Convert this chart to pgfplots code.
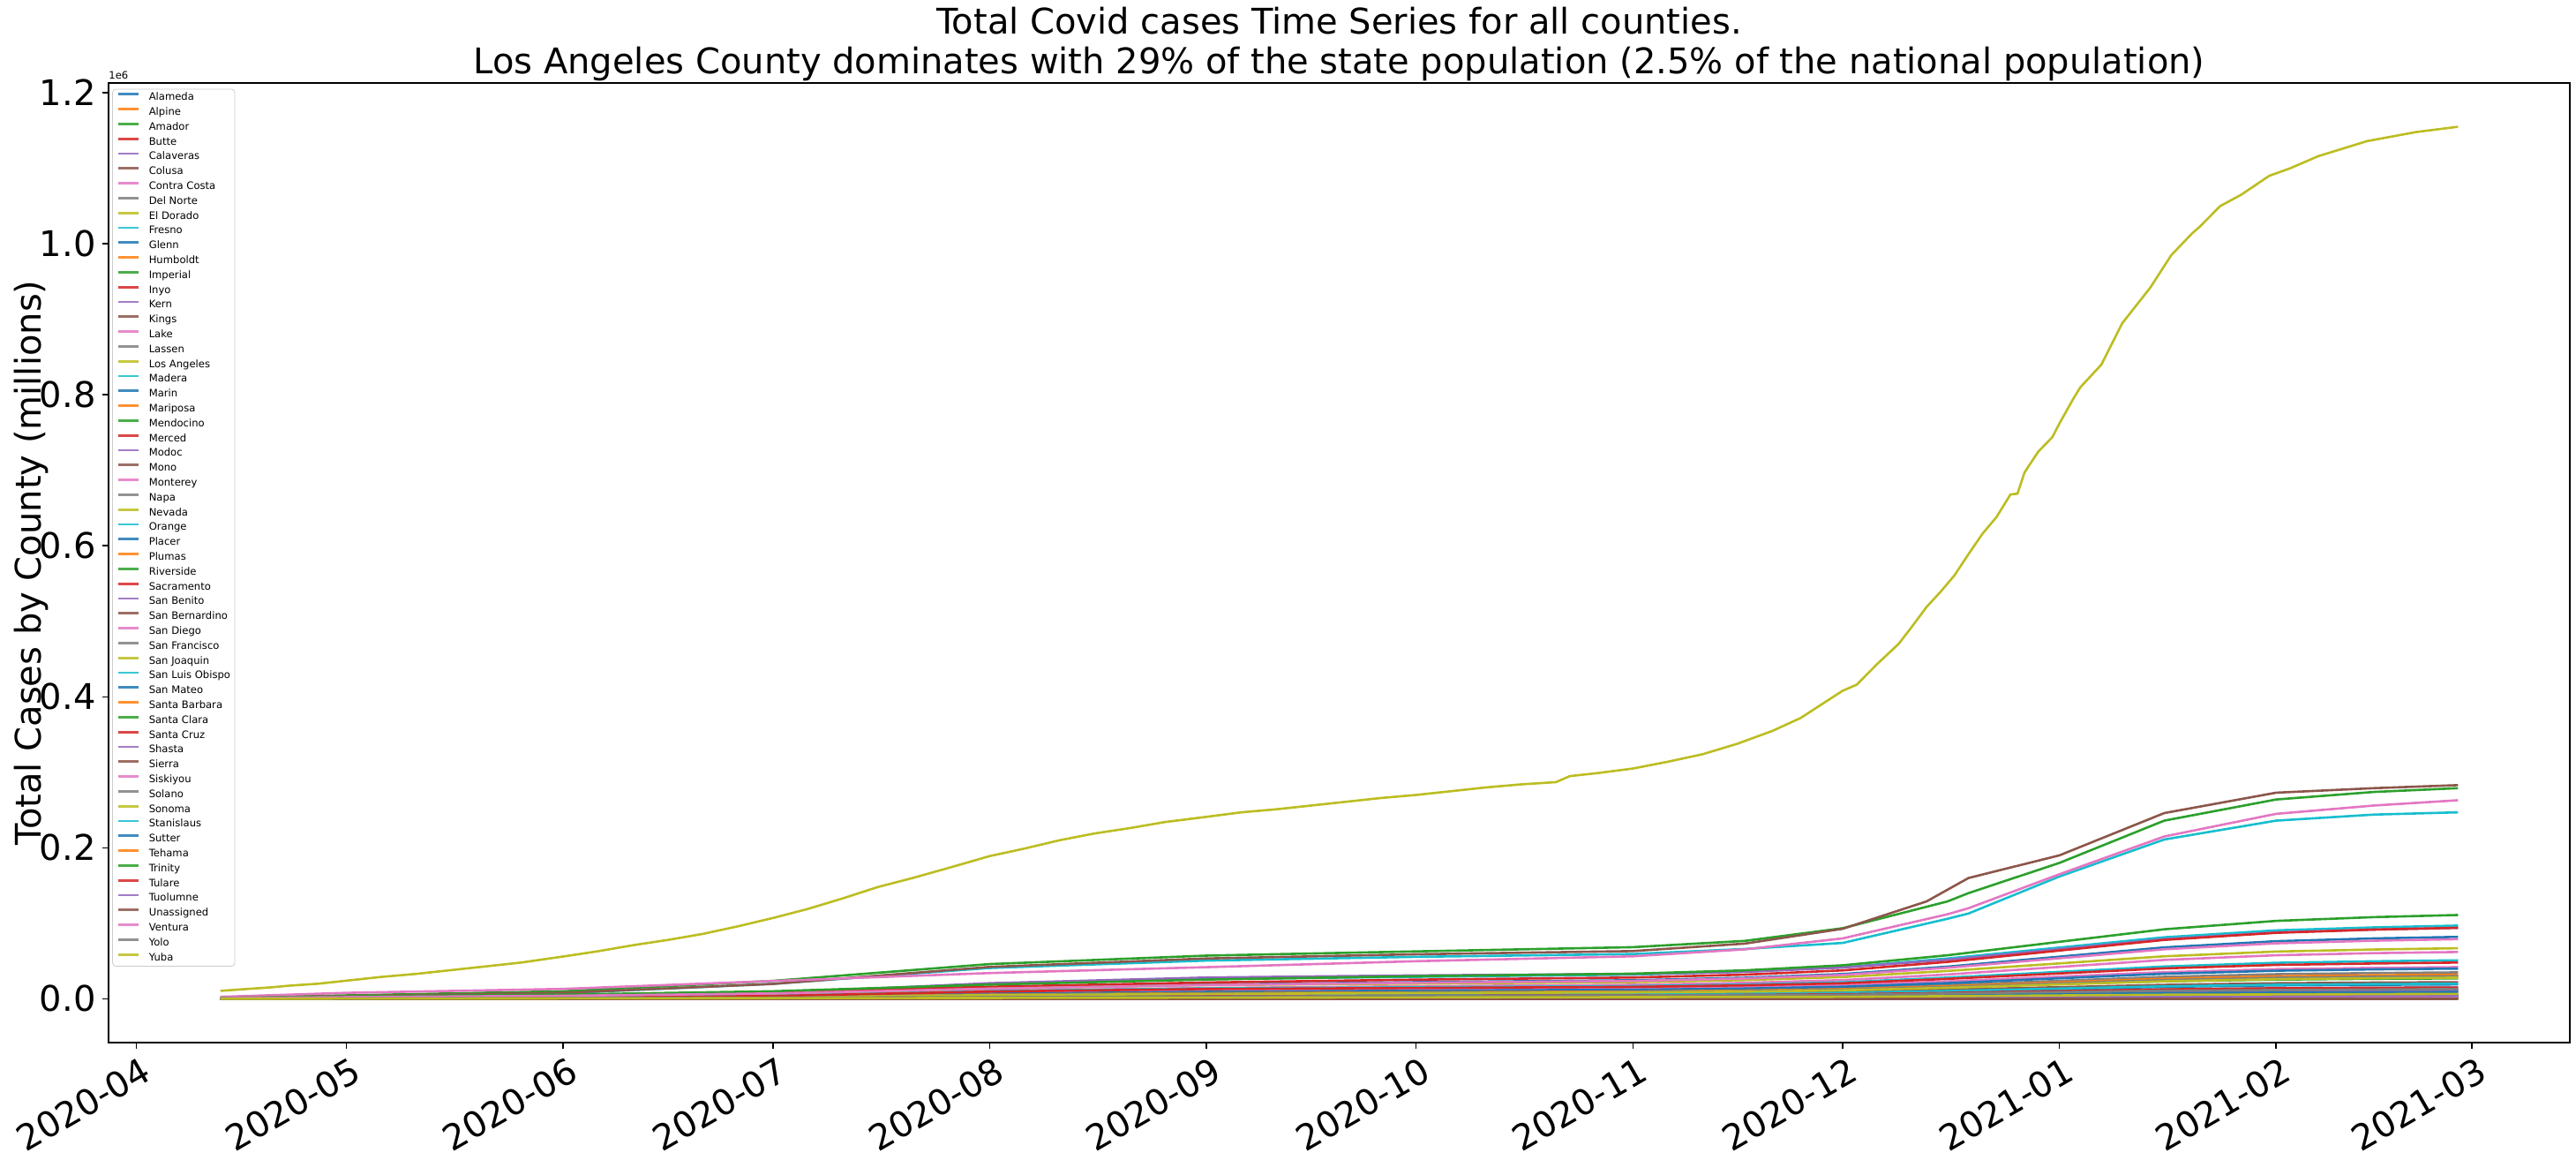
\documentclass[border=0pt]{standalone}
\usepackage{fontspec}
\setmainfont{DejaVu Sans}
\usepackage{pgfplots}
\pgfplotsset{compat=1.18}
\usetikzlibrary{calc}

% matplotlib tab10
\definecolor{c0}{RGB}{31,119,180}
\definecolor{c1}{RGB}{255,127,14}
\definecolor{c2}{RGB}{44,160,44}
\definecolor{c3}{RGB}{214,39,40}
\definecolor{c4}{RGB}{148,103,189}
\definecolor{c5}{RGB}{140,86,75}
\definecolor{c6}{RGB}{227,119,194}
\definecolor{c7}{RGB}{127,127,127}
\definecolor{c8}{RGB}{188,189,34}
\definecolor{c9}{RGB}{23,190,207}
\pgfplotscreateplotcyclelist{tab}{c0\\c1\\c2\\c3\\c4\\c5\\c6\\c7\\c8\\c9\\}

\begin{document}
\begin{tikzpicture}
\begin{axis}[
  name=ax,
  width=1394.5pt, height=543.5pt, scale only axis,
  xmin=-4, xmax=348, ymin=-0.058, ymax=1.213,
  axis line style={line width=0.8pt, black},
  tick align=outside, major tick length=3.5pt,
  tick style={line width=0.8pt, black},
  tick pos=left,
  xtick={0,30,61,91,122,153,183,214,244,275,306,334},
  xticklabels={2020-04,2020-05,2020-06,2020-07,2020-08,2020-09,2020-10,2020-11,2020-12,2021-01,2021-02,2021-03},
  ytick={0,0.2,0.4,0.6,0.8,1.0,1.2},
  yticklabels={0.0,0.2,0.4,0.6,0.8,1.0,1.2},
  ticklabel style={font=\fontsize{20}{24}\selectfont},
  xticklabel style={rotate=30, anchor=north east, inner sep=0pt, yshift=-4.5pt},
  yticklabel style={inner sep=0pt, xshift=-3.5pt},
  cycle list name=tab,
  no markers,
  every axis plot/.append style={line width=1.3pt},
  legend cell align=left,
  legend image code/.code={\draw[#1,opacity=0.85,line width=1.4pt] (0pt,1.9pt) -- (11.7pt,1.9pt);},
  legend style={
    at={(0.0015,0.994)}, anchor=north west,
    font=\fontsize{5.8}{6}\selectfont,
    draw=black!20, rounded corners=2pt, fill=white, fill opacity=0.8, text opacity=1, draw opacity=1,
    inner xsep=2.5pt, inner ysep=2pt,
    nodes={inner sep=0pt, text height=4.4pt, text depth=1.2pt},
    row sep=2.8pt, column sep=5pt,
  },
]
% days since 2020-04-01; values in millions of cases
\addplot coordinates {(12,.0010) (30,.0023) (61,.0041) (91,.0074) (122,.0139) (153,.0189) (183,.0221) (214,.0246) (230,.0279) (244,.0328) (259,.0426) (275,.0558) (290,.0681) (306,.0763) (320,.0800) (332,.082)};
\addlegendentry{Alameda}
\addplot coordinates {(12,0) (122,0) (244,0) (290,.0001) (332,.0001)};
\addlegendentry{Alpine}
\addplot coordinates {(12,0) (122,.0006) (244,.0014) (290,.0030) (332,.0036)};
\addlegendentry{Amador}
\addplot coordinates {(12,.0001) (122,.0019) (244,.0044) (290,.0091) (332,.011)};
\addlegendentry{Butte}
\addplot coordinates {(12,0) (122,.0003) (244,.0008) (290,.0016) (332,.0019)};
\addlegendentry{Calaveras}
\addplot coordinates {(12,0) (122,.0003) (244,.0008) (290,.0017) (332,.0020)};
\addlegendentry{Colusa}
\addplot coordinates {(12,.0007) (30,.0017) (61,.0031) (91,.0056) (122,.0105) (153,.0143) (183,.0167) (214,.0186) (230,.0211) (244,.0248) (259,.0322) (275,.0422) (290,.0515) (306,.0577) (320,.0605) (332,.062)};
\addlegendentry{Contra Costa}
\addplot coordinates {(12,0) (122,.0002) (244,.0004) (290,.0008) (332,.0010)};
\addlegendentry{Del Norte}
\addplot coordinates {(12,.0001) (122,.0016) (244,.0038) (290,.0079) (332,.0095)};
\addlegendentry{El Dorado}
\addplot coordinates {(12,.0003) (30,.0008) (61,.0024) (91,.0078) (122,.0194) (153,.0262) (183,.0291) (214,.0320) (230,.0359) (244,.0417) (259,.0534) (275,.0679) (290,.0815) (306,.0907) (320,.0946) (332,.097)};
\addlegendentry{Fresno}
\addplot coordinates {(12,0) (122,.0004) (244,.0009) (290,.0018) (332,.0022)};
\addlegendentry{Glenn}
\addplot coordinates {(12,0) (122,.0006) (244,.0013) (290,.0027) (332,.0033)};
\addlegendentry{Humboldt}
\addplot coordinates {(12,.0001) (30,.0003) (61,.0024) (91,.0059) (122,.0095) (153,.0111) (183,.0119) (214,.0127) (230,.0135) (244,.0149) (259,.0170) (275,.0200) (290,.0232) (306,.0254) (320,.0265) (332,.027)};
\addlegendentry{Imperial}
\addplot coordinates {(12,0) (122,.0002) (244,.0005) (290,.0011) (332,.0013)};
\addlegendentry{Inyo}
\addplot coordinates {(12,.0003) (30,.0008) (61,.0019) (91,.0075) (122,.0207) (153,.0282) (183,.0310) (214,.0329) (230,.0357) (244,.0414) (259,.0517) (275,.0658) (290,.0790) (306,.0879) (320,.0917) (332,.094)};
\addlegendentry{Kern}
\addplot coordinates {(12,.0001) (30,.0002) (61,.0006) (91,.0018) (122,.0044) (153,.0059) (183,.0066) (214,.0073) (230,.0081) (244,.0095) (259,.0121) (275,.0154) (290,.0185) (306,.0206) (320,.0215) (332,.022)};
\addlegendentry{Kings}
\addplot coordinates {(12,0) (122,.0006) (244,.0013) (290,.0027) (332,.0033)};
\addlegendentry{Lake}
\addplot coordinates {(12,0) (122,.0009) (244,.0022) (290,.0046) (332,.0055)};
\addlegendentry{Lassen}
\addplot coordinates {(12,0.0105) (15,0.0125) (19,0.015) (22,0.0175) (26,0.020) (30,0.024) (35,0.029) (40,0.033) (45,0.038) (50,0.043) (55,0.048) (61,0.056) (66,0.063) (71,0.071) (76,0.078) (81,0.086) (86,0.096) (91,0.107) (96,0.119) (101,0.133) (106,0.148) (111,0.160) (116,0.173) (122,0.189) (127,0.199) (132,0.210) (137,0.219) (142,0.226) (147,0.234) (153,0.241) (158,0.247) (163,0.251) (168,0.256) (173,0.261) (178,0.266) (183,0.270) (188,0.275) (193,0.280) (198,0.284) (203,0.287) (205,0.295) (209,0.299) (214,0.305) (219,0.314) (224,0.324) (229,0.338) (234,0.355) (238,0.372) (241,0.390) (244,0.408) (246,0.416) (249,0.444) (252,0.470) (254,0.494) (256,0.519) (258,0.539) (260,0.561) (262,0.589) (264,0.616) (266,0.638) (268,0.668) (269,0.669) (270,0.697) (272,0.725) (274,0.744) (275,0.762) (277,0.795) (278,0.810) (281,0.840) (284,0.895) (288,0.942) (291,0.985) (294,1.014) (295,1.022) (298,1.050) (301,1.065) (305,1.090) (308,1.100) (312,1.116) (319,1.136) (326,1.148) (332,1.155)};
\addlegendentry{Los Angeles}
\addplot coordinates {(12,0) (30,.0001) (61,.0004) (91,.0012) (122,.0030) (153,.0041) (183,.0045) (214,.0050) (230,.0056) (244,.0065) (259,.0083) (275,.0105) (290,.0126) (306,.0140) (320,.0146) (332,.015)};
\addlegendentry{Madera}
\addplot coordinates {(12,.0001) (122,.0022) (244,.0052) (290,.0108) (332,.013)};
\addlegendentry{Marin}
\addplot coordinates {(12,0) (122,.0001) (244,.0002) (290,.0003) (332,.0004)};
\addlegendentry{Mariposa}
\addplot coordinates {(12,0) (122,.0006) (244,.0015) (290,.0032) (332,.0038)};
\addlegendentry{Mendocino}
\addplot coordinates {(12,.0001) (30,.0002) (61,.0008) (91,.0024) (122,.0060) (153,.0081) (183,.0090) (214,.0099) (230,.0111) (244,.0129) (259,.0165) (275,.0210) (290,.0252) (306,.0281) (320,.0293) (332,.030)};
\addlegendentry{Merced}
\addplot coordinates {(12,0) (122,0) (244,.0001) (290,.0003) (332,.0004)};
\addlegendentry{Modoc}
\addplot coordinates {(12,0) (122,.0002) (244,.0005) (290,.0010) (332,.0012)};
\addlegendentry{Mono}
\addplot coordinates {(12,.0001) (30,.0003) (61,.0011) (91,.0034) (122,.0084) (153,.0113) (183,.0126) (214,.0139) (230,.0155) (244,.0181) (259,.0231) (275,.0294) (290,.0353) (306,.0393) (320,.0410) (332,.042)};
\addlegendentry{Monterey}
\addplot coordinates {(12,.0001) (122,.0016) (244,.0038) (290,.0079) (332,.0095)};
\addlegendentry{Napa}
\addplot coordinates {(12,0) (122,.0008) (244,.0018) (290,.0037) (332,.0045)};
\addlegendentry{Nevada}
\addplot coordinates {(12,.0010) (30,.0030) (61,.0074) (91,.0198) (122,.0408) (153,.0506) (183,.0556) (214,.0593) (230,.0660) (244,.0740) (259,.1060) (262,.1130) (275,.1620) (290,.2110) (306,.2360) (320,.2440) (332,.247)};
\addlegendentry{Orange}
\addplot coordinates {(12,.0002) (30,.0005) (61,.0010) (91,.0017) (122,.0032) (153,.0044) (183,.0051) (214,.0057) (230,.0065) (244,.0076) (259,.0099) (275,.0129) (290,.0158) (306,.0177) (320,.0185) (332,.019)};
\addlegendentry{Placer}
\addplot coordinates {(12,0) (122,.0001) (244,.0002) (290,.0005) (332,.0006)};
\addlegendentry{Plumas}
\addplot coordinates {(12,.0017) (30,.0045) (61,.0100) (91,.0237) (122,.0460) (153,.0572) (183,.0628) (214,.0684) (230,.0767) (244,.0935) (259,.1290) (262,.1400) (275,.1800) (290,.2360) (306,.2640) (320,.2740) (332,.279)};
\addlegendentry{Riverside}
\addplot coordinates {(12,.0011) (30,.0026) (61,.0047) (91,.0085) (122,.0160) (153,.0216) (183,.0254) (214,.0282) (230,.0320) (244,.0376) (259,.0489) (275,.0639) (290,.0780) (306,.0874) (320,.0917) (332,.094)};
\addlegendentry{Sacramento}
\addplot coordinates {(12,0) (122,.0010) (244,.0024) (290,.0050) (332,.006)};
\addlegendentry{San Benito}
\addplot coordinates {(12,.0014) (30,.0037) (61,.0079) (91,.0197) (122,.0422) (153,.0534) (183,.0590) (214,.0632) (230,.0731) (244,.0927) (256,.1290) (262,.1600) (275,.1900) (290,.2460) (306,.2730) (320,.2790) (332,.283)};
\addlegendentry{San Bernardino}
\addplot coordinates {(12,.0026) (30,.0079) (61,.0131) (91,.0236) (122,.0341) (153,.0419) (183,.0498) (214,.0563) (230,.0655) (244,.0800) (259,.1120) (262,.1200) (275,.1650) (290,.2150) (306,.2450) (320,.2560) (332,.263)};
\addlegendentry{San Diego}
\addplot coordinates {(12,.0004) (30,.0010) (61,.0018) (91,.0032) (122,.0060) (153,.0081) (183,.0095) (214,.0105) (230,.0119) (244,.0140) (259,.0182) (275,.0238) (290,.0291) (306,.0326) (320,.0341) (332,.035)};
\addlegendentry{San Francisco}
\addplot coordinates {(12,.0002) (30,.0005) (61,.0017) (91,.0054) (122,.0134) (153,.0181) (183,.0201) (214,.0221) (230,.0248) (244,.0288) (259,.0369) (275,.0469) (290,.0563) (306,.0626) (320,.0653) (332,.067)};
\addlegendentry{San Joaquin}
\addplot coordinates {(12,.0002) (30,.0006) (61,.0010) (91,.0018) (122,.0034) (153,.0046) (183,.0054) (214,.0060) (230,.0068) (244,.0080) (259,.0104) (275,.0136) (290,.0166) (306,.0186) (320,.0195) (332,.020)};
\addlegendentry{San Luis Obispo}
\addplot coordinates {(12,.0005) (30,.0011) (61,.0020) (91,.0036) (122,.0068) (153,.0092) (183,.0108) (214,.0120) (230,.0136) (244,.0160) (259,.0208) (275,.0272) (290,.0332) (306,.0372) (320,.0390) (332,.040)};
\addlegendentry{San Mateo}
\addplot coordinates {(12,.0004) (30,.0009) (61,.0016) (91,.0029) (122,.0054) (153,.0074) (183,.0086) (214,.0096) (230,.0109) (244,.0128) (259,.0166) (275,.0218) (290,.0266) (306,.0298) (320,.0312) (332,.032)};
\addlegendentry{Santa Barbara}
\addplot coordinates {(12,.0013) (30,.0031) (61,.0056) (91,.0100) (122,.0189) (153,.0255) (183,.0300) (214,.0333) (230,.0377) (244,.0444) (259,.0577) (275,.0755) (290,.0921) (306,.1032) (320,.1082) (332,.111)};
\addlegendentry{Santa Clara}
\addplot coordinates {(12,.0002) (30,.0004) (61,.0008) (91,.0014) (122,.0026) (153,.0035) (183,.0041) (214,.0045) (230,.0051) (244,.0060) (259,.0078) (275,.0102) (290,.0125) (306,.0140) (320,.0146) (332,.015)};
\addlegendentry{Santa Cruz}
\addplot coordinates {(12,.0001) (122,.0019) (244,.0044) (290,.0091) (332,.011)};
\addlegendentry{Shasta}
\addplot coordinates {(12,0) (122,0) (244,0) (290,.0001) (332,.0001)};
\addlegendentry{Sierra}
\addplot coordinates {(12,0) (122,.0003) (244,.0008) (290,.0017) (332,.0020)};
\addlegendentry{Siskiyou}
\addplot coordinates {(12,.0004) (30,.0008) (61,.0015) (91,.0027) (122,.0051) (153,.0069) (183,.0081) (214,.0090) (230,.0102) (244,.0120) (259,.0156) (275,.0204) (290,.0249) (306,.0279) (320,.0293) (332,.030)};
\addlegendentry{Solano}
\addplot coordinates {(12,.0003) (30,.0008) (61,.0014) (91,.0025) (122,.0048) (153,.0064) (183,.0076) (214,.0084) (230,.0095) (244,.0112) (259,.0146) (275,.0190) (290,.0232) (306,.0260) (320,.0273) (332,.028)};
\addlegendentry{Sonoma}
\addplot coordinates {(12,.0002) (30,.0004) (61,.0013) (91,.0041) (122,.0102) (153,.0138) (183,.0153) (214,.0168) (230,.0189) (244,.0219) (259,.0281) (275,.0357) (290,.0428) (306,.0477) (320,.0497) (332,.051)};
\addlegendentry{Stanislaus}
\addplot coordinates {(12,.0001) (122,.0015) (244,.0036) (290,.0075) (332,.009)};
\addlegendentry{Sutter}
\addplot coordinates {(12,0) (122,.0009) (244,.0020) (290,.0042) (332,.005)};
\addlegendentry{Tehama}
\addplot coordinates {(12,0) (122,0) (244,.0002) (290,.0003) (332,.0004)};
\addlegendentry{Trinity}
\addplot coordinates {(12,.0001) (30,.0004) (61,.0012) (91,.0038) (122,.0096) (153,.0130) (183,.0144) (214,.0158) (230,.0178) (244,.0206) (259,.0264) (275,.0336) (290,.0403) (306,.0449) (320,.0468) (332,.048)};
\addlegendentry{Tulare}
\addplot coordinates {(12,0) (122,.0007) (244,.0016) (290,.0033) (332,.004)};
\addlegendentry{Tuolumne}
\addplot coordinates {(12,0) (122,0) (244,0) (290,0) (332,0)};
\addlegendentry{Unassigned}
\addplot coordinates {(12,.0009) (30,.0022) (61,.0040) (91,.0071) (122,.0134) (153,.0182) (183,.0213) (214,.0237) (230,.0269) (244,.0316) (259,.0411) (275,.0537) (290,.0656) (306,.0735) (320,.0770) (332,.079)};
\addlegendentry{Ventura}
\addplot coordinates {(12,.0001) (122,.0022) (244,.0052) (290,.0108) (332,.013)};
\addlegendentry{Yolo}
\addplot coordinates {(12,.0001) (122,.0011) (244,.0026) (290,.0054) (332,.0065)};
\addlegendentry{Yuba}
\end{axis}
\node[anchor=base west, inner sep=0pt, font=\fontsize{5.8}{6}\selectfont] at ($(ax.north west)+(0,2pt)$) {1e6};
\node[anchor=base, inner sep=0pt, font=\fontsize{20}{24}\selectfont] at ($(ax.north)+(0,27.5pt)$) {Total Covid cases Time Series for all counties.};
\node[anchor=base, inner sep=0pt, font=\fontsize{20}{24}\selectfont] at ($(ax.north)+(0,5pt)$) {Los Angeles County dominates with 29\% of the state population (2.5\% of the national population)};
\node[rotate=90, anchor=base, inner sep=0pt, font=\fontsize{20}{24}\selectfont] at ($(ax.west)+(-38.5pt,0)$) {Total Cases by County (millions)};
\pgfresetboundingbox
\path[use as bounding box] ($(ax.south west)+(-61.5pt,-66pt)$) rectangle ($(ax.north east)+(3.5pt,47pt)$);
\end{tikzpicture}
\end{document}
